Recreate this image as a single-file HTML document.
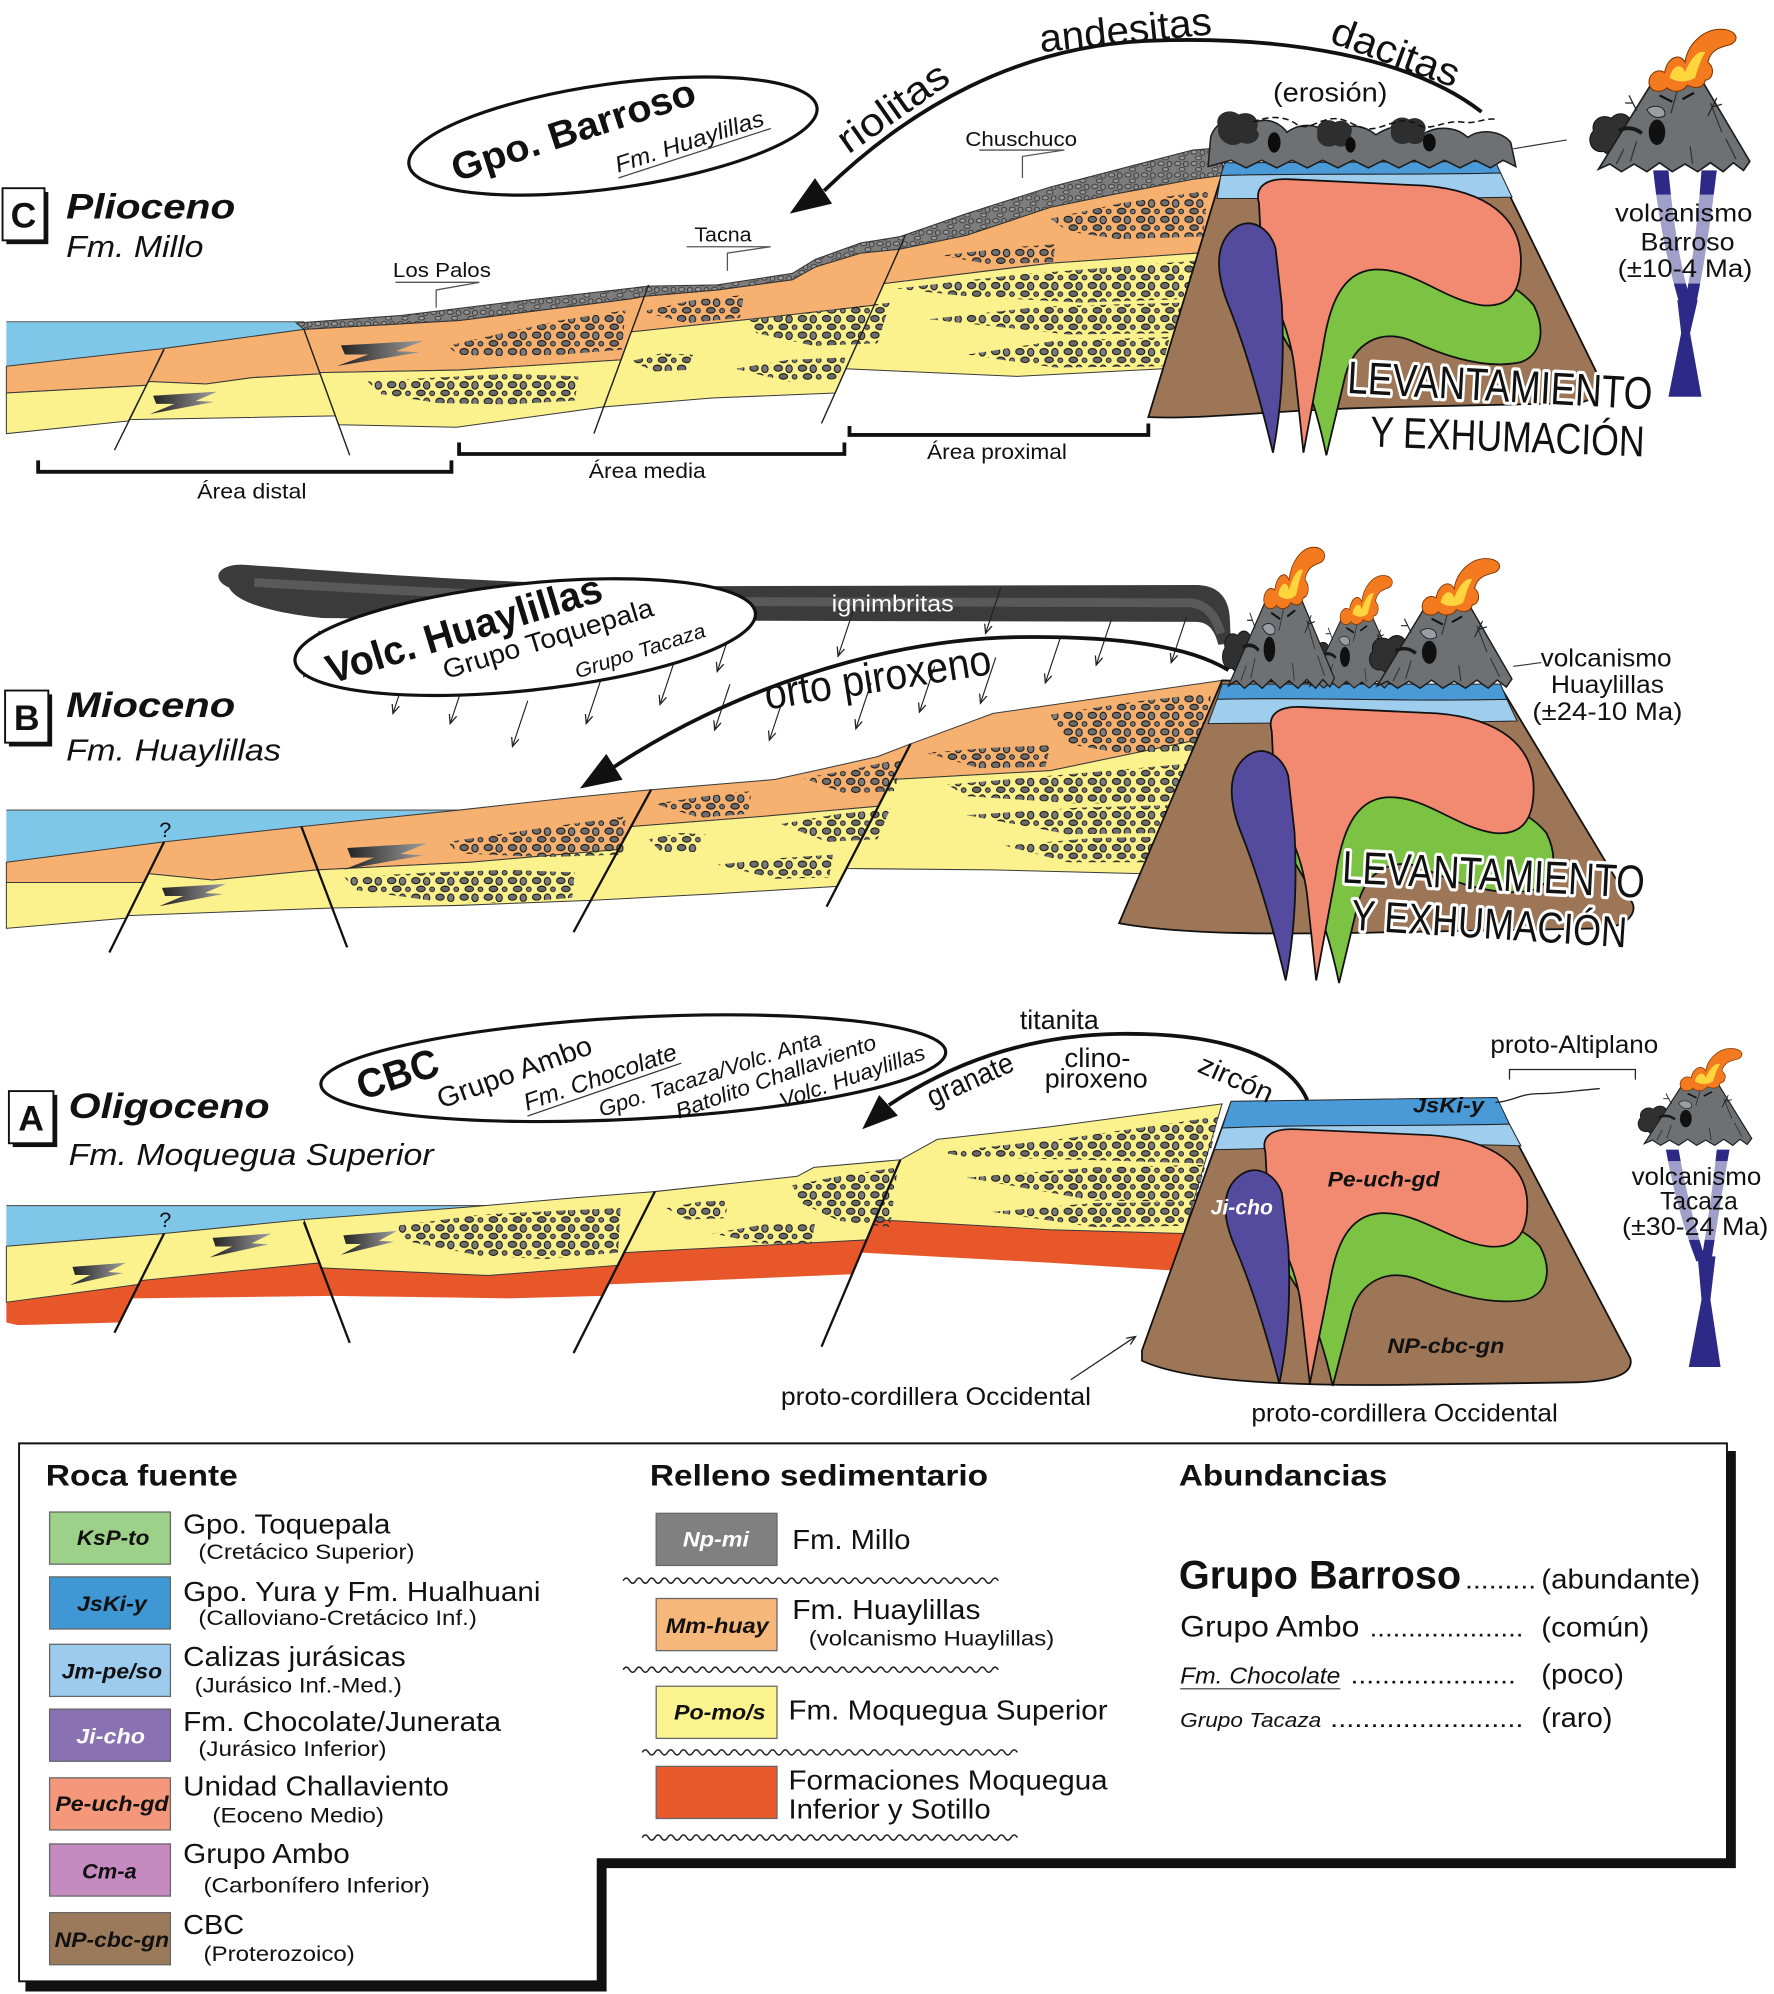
<!DOCTYPE html>
<html><head><meta charset="utf-8"><style>
html,body{margin:0;padding:0;background:#fff;}
svg{display:block;}
text{font-family:"Liberation Sans",Arial,sans-serif;fill:#111;}
</style></head><body>
<svg xmlns="http://www.w3.org/2000/svg" xmlns:xlink="http://www.w3.org/1999/xlink" width="1774" height="1994" viewBox="0 0 1395 1568">
<defs>
 <pattern id="gv" width="19" height="13" patternUnits="userSpaceOnUse">
  <ellipse cx="4" cy="3.5" rx="3.3" ry="2.4" fill="#6e6e6e" stroke="#111" stroke-width=".8"/>
  <ellipse cx="12.5" cy="4" rx="2.5" ry="3" fill="#7c7c7c" stroke="#111" stroke-width=".8"/>
  <ellipse cx="8" cy="10" rx="3.4" ry="2.2" fill="#6a6a6a" stroke="#111" stroke-width=".8"/>
  <ellipse cx="16.8" cy="10.3" rx="1.9" ry="1.8" fill="#7c7c7c" stroke="#111" stroke-width=".7"/>
 </pattern>
 <pattern id="gv2" width="13" height="9" patternUnits="userSpaceOnUse">
  <ellipse cx="3" cy="2.6" rx="2.4" ry="1.7" fill="#959595" stroke="#2a2a2a" stroke-width=".6"/>
  <ellipse cx="9.5" cy="3" rx="1.9" ry="2.1" fill="#8a8a8a" stroke="#2a2a2a" stroke-width=".6"/>
  <ellipse cx="6.5" cy="7.2" rx="2.4" ry="1.5" fill="#959595" stroke="#2a2a2a" stroke-width=".6"/>
 </pattern>
 <linearGradient id="lg" x1="0" x2="1" y1="0" y2="0"><stop offset="0" stop-color="#1e1e1e"/><stop offset="1" stop-color="#a0a0a0"/></linearGradient>
 <marker id="ah" markerWidth="9" markerHeight="9" refX="7" refY="4" orient="auto" markerUnits="userSpaceOnUse"><path d="M0,1 L7,4 L0,7" fill="none" stroke="#222" stroke-width="1"/></marker>
 <path id="bolt" d="M2,4 L44,0 L30,9 L42,10 L0,22 L16,12 L4,12 Z" fill="url(#lg)"/>
 <path id="millo" d="M233,254 L316,248 L406,237 L510,225 L564,224 L623,215 L641,204 L677,191 L708,186 L760,168 L826,147 L880,133 L938,118 L962,116 L961,138 L938,141 L880,152 L826,163 L760,185 L707,196 L677,199 L641,210 L623,220 L564,228 L506.7,233 L496,235 L361,252 L239,259 Z"/>
 <g id="cone">
  <path d="M10,34 C2,30 -6,36 -4,44 C-10,50 -6,62 4,60 C10,66 22,62 24,54 C34,52 34,40 26,38 C24,30 16,28 10,34 Z" fill="#303030" stroke="#111" stroke-width=".8"/>
  <path d="M44,3 C55,-1 70,-1 80,2 L119,68 L114,75 L106,69 L98,76 L88,69 L78,76 L68,70 L58,76 L48,69 L38,76 L28,70 L18,76 L9,70 L0,74 Z" fill="#6d7174" stroke="#1d1d1d" stroke-width="1.3"/>
  <path d="M62,12 L57,30 M88,22 L97,45 M30,52 L25,68 M100,50 L108,66 M72,56 L74,70 M20,58 L14,70" stroke="#333" stroke-width="1" fill="none"/>
  <path d="M16,44 C22,40 30,42 34,46" stroke="#1a1a1a" stroke-width="3" fill="none"/>
  <ellipse cx="46" cy="45" rx="6.5" ry="10" fill="#111"/>
  <path d="M38,27 C44,22 54,25 52,32 C47,35 41,33 38,27Z" fill="#9a9ea2" stroke="#222" stroke-width=".8"/>
  <path d="M48,16 L58,21 M66,19 L75,14" stroke="#111" stroke-width="1.8"/>
  <path d="M86,32 L93,18 M90,25 L97,23 M30,28 L24,16 M27,22 L21,22" stroke="#222" stroke-width="1" fill="none"/>
  <path d="M40,8 C38,0 46,-6 52,-2 C54,-14 64,-18 68,-10 C70,-24 82,-36 96,-36 C108,-36 112,-28 104,-24 C96,-22 88,-20 86,-10 C92,-6 90,4 84,4 C82,12 74,10 70,8 C66,14 58,14 54,10 C50,14 42,14 40,8 Z" fill="#f47a1f" stroke="#7a3300" stroke-width=".8"/>
  <path d="M56,2 C58,-8 66,-10 68,-2 C72,-12 78,-20 84,-18 C80,-12 78,-4 76,2 C70,6 62,6 56,2 Z" fill="#ffd53d"/>
 </g>
 <g id="intr" stroke="#111" stroke-width="1.4">
  <path fill="#7cc243" d="M996,210 C1002,200 1012,205 1018,220 L1030,250 C1050,225 1075,205 1100,205 C1150,205 1190,220 1206,240 C1216,260 1212,280 1195,285 C1170,290 1140,282 1110,268 C1085,258 1065,270 1058,295 L1043,358 C1035,320 1025,290 1012,270 C1000,250 994,228 996,210 Z"/>
  <path fill="#f28a72" d="M990,160 C986,145 998,140 1015,141 L1120,146 C1170,150 1196,172 1196,205 C1196,232 1185,242 1165,240 C1135,236 1110,210 1080,212 C1055,214 1045,240 1040,275 L1025,356 L1018,290 C1014,255 1000,235 995,215 C991,195 991,175 990,160 Z"/>
  <path fill="#544a9e" d="M970,180 C982,170 998,178 1003,195 L1008,240 C1010,280 1008,320 1001,356 C990,310 978,270 966,240 C956,215 955,192 970,180 Z"/>
 </g>
</defs>

<!-- ================= PANEL C ================= -->
<path d="M5,253 L239,253 L239,259 L129,274 L5,288 Z" fill="#7fc7e8"/>
<line x1="5" y1="253" x2="239" y2="253" stroke="#555" stroke-width=".8"/>
<g stroke="#3a3a3a" stroke-width=".8">
<path fill="#f6b170" d="M5,288 L129,274 L115,303 L5,309 Z"/>
<path fill="#fbf28e" d="M5,309 L115,303 L101,331 L5,341 Z"/>
<path fill="#f6b170" d="M129,274 L239,259 L251.7,294 L198,297 L162,302 L116.5,300 Z"/>
<path fill="#fbf28e" d="M116.5,300 L162,302 L198,297 L251.7,294 L263.8,327 L101.5,330 Z"/>
<path fill="#f6b170" d="M239,259 L361,252 L496,235 L506.7,233 L488.3,283 L361,291 L251.4,293 Z"/>
<path fill="#fbf28e" d="M251.4,293 L361,291 L488.3,283 L474.7,320 L359,336 L266.3,334 Z"/>
<path fill="#f6b170" d="M506.7,233 L564,228 L623,220 L641,210 L677,199 L707,196 L687.5,240 L600,250 L496.4,261 Z"/>
<path fill="#fbf28e" d="M496.4,261 L600,250 L687.5,240 L656.7,309 L560,313 L474.7,320 Z"/>
<path fill="#f6b170" d="M707,196 L760,185 L826,163 L880,152 L938,141 L961,138 L942,199 L826,207 L695,223 Z"/>
<path fill="#fbf28e" d="M695,223 L826,207 L942,199 L914.5,290 L800,296 L665,290 Z"/>
</g>
<g fill="url(#gv)">
<path d="M352,272 L395,262 L440,252 L492,244 L489,275 L440,279 L395,280 L360,279 Z"/>
<path d="M289,300 L340,297 L400,294 L455,296 L452,315 L400,318 L345,317 L300,310 Z"/>
<path d="M505,245 L545,236 L585,232 L582,250 L540,254 Z"/>
<path d="M587,252 L640,245 L700,238 L690,270 L640,272 L595,262 Z"/>
<path d="M578,290 L620,283 L665,281 L660,298 L620,300 Z"/>
<path d="M496,284 L520,278 L545,279 L540,291 L515,292 Z"/>
<path d="M826,172 L880,160 L950,150 L946,186 L880,188 L840,182 Z"/>
<path d="M740,201 L790,195 L830,192 L828,206 L780,208 Z"/>
<path d="M705,227 L800,216 L940,205 L934,235 L850,238 L760,233 Z"/>
<path d="M730,251 L820,241 L930,238 L924,262 L840,263 Z"/>
<path d="M760,279 L830,268 L920,265 L914,288 L830,289 Z"/>
</g>
<use xlink:href="#millo" fill="#7d7d7d"/>
<use xlink:href="#millo" fill="url(#gv2)" stroke="#333" stroke-width=".8"/>
<use xlink:href="#bolt" transform="translate(265,268) scale(1.55,0.9)"/>
<use xlink:href="#bolt" transform="translate(118,308) scale(1.2,0.8)"/>
<g stroke="#222" stroke-width="1.1">
<line x1="129" y1="275" x2="90" y2="354"/>
<line x1="239" y1="259" x2="275" y2="358"/>
<line x1="510" y1="224" x2="467" y2="341"/>
<line x1="712" y1="185" x2="646" y2="333"/>
</g>
<!-- mountain C -->
<path d="M963,130 L1176,131 L1257,296 C1262,305 1255,315 1240,317 L1100,320 C1000,322 950,330 903,328 Z" fill="#9c7657" stroke="#111" stroke-width="1.4"/>
<path d="M963,128 L1176,127 L1180,136 C1100,138 1030,136 960,138 Z" fill="#4a9ad8" stroke="#222" stroke-width=".8"/>
<path d="M960,138 C1030,136 1100,138 1180,136 L1189,155 C1100,157 1030,156 957,156 Z" fill="#9fcdee" stroke="#222" stroke-width=".8"/>
<use xlink:href="#intr"/>
<!-- eroded volcanic pile -->
<path d="M950,131 L952,108 C956,94 972,90 984,98 C996,90 1008,98 1012,104 C1026,94 1040,100 1046,106 C1060,96 1072,98 1082,106 C1094,98 1108,96 1118,106 C1130,98 1146,100 1154,108 C1166,100 1182,104 1188,112 L1192,131 L1182,126 L1172,132 L1160,126 L1148,132 L1136,126 L1124,132 L1112,126 L1100,132 L1088,126 L1076,132 L1064,126 L1052,132 L1040,126 L1028,132 L1016,126 L1004,132 L992,126 L980,132 L968,126 Z" fill="#6d7174" stroke="#1d1d1d" stroke-width="1.2"/>
<g fill="#2e2e2e"><path d="M958,100 C954,90 966,84 974,90 C984,86 992,94 988,102 C994,108 984,116 976,112 C968,118 956,110 958,100 Z"/><path d="M1036,104 C1034,96 1044,92 1050,96 C1058,92 1066,100 1062,106 C1066,112 1056,118 1050,114 C1042,118 1034,112 1036,104 Z"/><path d="M1094,102 C1092,94 1102,90 1108,94 C1116,90 1124,98 1120,104 C1124,110 1114,116 1108,112 C1100,116 1092,110 1094,102 Z"/></g>
<g fill="#0c0c0c"><ellipse cx="1002" cy="112" rx="5" ry="8"/><ellipse cx="1062" cy="114" rx="4" ry="6"/><ellipse cx="1124" cy="112" rx="5" ry="7"/></g>
<path d="M985,96 C1000,90 1012,92 1020,98 C1030,104 1040,90 1055,94 C1068,98 1072,104 1085,100 C1098,96 1105,92 1115,98 C1125,104 1135,94 1150,96 C1160,98 1168,92 1178,94" fill="none" stroke="#111" stroke-width="1.2" stroke-dasharray="5,3"/>
<line x1="1190" y1="117" x2="1232" y2="110" stroke="#333" stroke-width=".9"/>
<!-- right volcano C -->
<g fill="#2d2a87">
<path d="M1300,134 L1312,134 Q1318,200 1330,238 L1321,240 Q1306,190 1300,134 Z"/>
<path d="M1338,134 L1350,134 Q1342,200 1334,238 L1325,238 Q1334,190 1338,134 Z"/>
<path d="M1319,236 L1335,236 L1329,262 L1338,312 L1312,312 L1322,262 Z"/>
</g>
<rect x="1292" y="153" width="66" height="70" fill="#fff" opacity=".55"/>
<use xlink:href="#cone" transform="translate(1257,59)"/>
<g text-anchor="middle" font-size="20">
<text x="1324" y="174" textLength="108" lengthAdjust="spacingAndGlyphs">volcanismo</text>
<text x="1327" y="197" textLength="74" lengthAdjust="spacingAndGlyphs">Barroso</text>
<text x="1325" y="218" textLength="106" lengthAdjust="spacingAndGlyphs">(±10-4 Ma)</text>
</g>
<text x="1001" y="80" font-size="21" textLength="90" lengthAdjust="spacingAndGlyphs">(erosión)</text>
<!-- arc C -->
<path d="M1165,88 C1110,45 1010,28 905,32 C800,36 715,85 648,150" fill="none" stroke="#111" stroke-width="3"/>
<path d="M621,168 L640.9,140.1 L654.3,160.1 Z" fill="#111"/>
<text transform="translate(708,93) rotate(-35)" text-anchor="middle" font-size="31" textLength="100" lengthAdjust="spacingAndGlyphs">riolitas</text>
<text transform="translate(886,34) rotate(-6)" text-anchor="middle" font-size="31" textLength="136" lengthAdjust="spacingAndGlyphs">andesitas</text>
<text transform="translate(1094,51) rotate(20)" text-anchor="middle" font-size="31" textLength="105" lengthAdjust="spacingAndGlyphs">dacitas</text>
<!-- ellipse C -->
<ellipse cx="482" cy="107" rx="162" ry="41" transform="rotate(-8 482 107)" fill="#fff" stroke="#111" stroke-width="2.5"/>
<text transform="translate(454,112) rotate(-18)" text-anchor="middle" font-size="30" font-weight="bold" textLength="200" lengthAdjust="spacingAndGlyphs">Gpo. Barroso</text>
<g transform="translate(544,117) rotate(-18)"><text text-anchor="middle" font-size="18" font-style="italic" textLength="122" lengthAdjust="spacingAndGlyphs">Fm. Huaylillas</text><line x1="-62" y1="4" x2="64" y2="4" stroke="#444" stroke-width="1"/></g>
<!-- leaders -->
<g fill="none" stroke="#555" stroke-width="1">
<path d="M311,222 L377,222 L343,228 L343,242"/>
<path d="M540,194 L606,194 L572,199 L572,213"/>
<path d="M770,118 L837,118 L804,123 L804,140"/>
</g>
<g font-size="16">
<text x="309" y="218" textLength="77" lengthAdjust="spacingAndGlyphs">Los Palos</text>
<text x="546" y="190" textLength="45" lengthAdjust="spacingAndGlyphs">Tacna</text>
<text x="759" y="115" textLength="88" lengthAdjust="spacingAndGlyphs">Chuschuco</text>
</g>
<!-- title C -->
<rect x="5" y="151" width="33" height="41" fill="#111"/>
<rect x="2" y="148" width="33" height="41" fill="#fff" stroke="#111" stroke-width="1.5"/>
<text x="18.5" y="179" text-anchor="middle" font-size="28" font-weight="bold">C</text>
<text x="52" y="172" font-size="28" font-weight="bold" font-style="italic" textLength="133" lengthAdjust="spacingAndGlyphs">Plioceno</text>
<text x="52" y="202" font-size="24" font-style="italic" textLength="108" lengthAdjust="spacingAndGlyphs">Fm. Millo</text>
<!-- brackets -->
<g fill="none" stroke="#111" stroke-width="3">
<path d="M30,362 L30,371 L355,371 L355,362"/>
<path d="M361,348 L361,357 L664,357 L664,348"/>
<path d="M668,335 L668,342 L903,342 L903,333"/>
</g>
<g font-size="17" text-anchor="middle">
<text x="198" y="392" textLength="86" lengthAdjust="spacingAndGlyphs">Área distal</text>
<text x="509" y="376" textLength="92" lengthAdjust="spacingAndGlyphs">Área media</text>
<text x="784" y="361" textLength="110" lengthAdjust="spacingAndGlyphs">Área proximal</text>
</g>
<g transform="translate(1059,309) rotate(3.1)"><text font-size="36" stroke="#fff" stroke-width="5" paint-order="stroke" stroke-linejoin="round" textLength="240" lengthAdjust="spacingAndGlyphs">LEVANTAMIENTO</text></g>
<g transform="translate(1077,351) rotate(2.1)"><text font-size="34" stroke="#fff" stroke-width="5" paint-order="stroke" stroke-linejoin="round" textLength="216" lengthAdjust="spacingAndGlyphs">Y EXHUMACIÓN</text></g>

<!-- ================= PANEL B ================= -->
<path d="M5,637 L361,637 L237,650 L129,662 L5,678 Z" fill="#7fc7e8"/>
<line x1="5" y1="637" x2="361" y2="637" stroke="#555" stroke-width=".8"/>
<g stroke="#3a3a3a" stroke-width=".8">
<path fill="#f6b170" d="M5,678 L129,662 L113.2,694 L5,694 Z"/>
<path fill="#fbf28e" d="M5,694 L113.2,694 L99.4,722 L5,730 Z"/>
<path fill="#f6b170" d="M129,662 L237,650 L249.9,684 L167,692 L116.6,687 Z"/>
<path fill="#fbf28e" d="M116.6,687 L167,692 L249.9,684 L261.3,714 L100.3,720 Z"/>
<path fill="#f6b170" d="M237,650 L361,637 L451,627 L512,621 L486.4,668 L370,678 L249.9,684 Z"/>
<path fill="#fbf28e" d="M249.9,684 L370,678 L486.4,668 L464.6,708 L360,712 L261.3,714 Z"/>
<path fill="#f6b170" d="M512,621 L609,613 L641,606 L690,595 L716,585 L690.7,634 L600,642 L496.2,650 Z"/>
<path fill="#fbf28e" d="M496.2,650 L600,642 L690.7,634 L658.2,697 L560,703 L464.6,708 Z"/>
<path fill="#f6b170" d="M716,585 L781,561 L871,548 L961,535 L941,582 L826,606 L701.6,613 Z"/>
<path fill="#fbf28e" d="M701.6,613 L826,606 L941,582 L896.6,687 L780,684 L665.4,683 Z"/>
</g>
<g fill="url(#gv)">
<path d="M352,662 L420,652 L492,642 L490,672 L430,674 L360,671 Z"/>
<path d="M271,690 L340,686 L400,684 L452,686 L450,706 L400,710 L345,709 L280,700 Z"/>
<path d="M515,632 L555,626 L591,622 L588,640 L550,643 Z"/>
<path d="M632,612 L670,605 L708,597 L704,622 L665,624 Z"/>
<path d="M614,648 L660,640 L700,636 L690,660 L650,662 Z"/>
<path d="M564,680 L610,675 L655,672 L652,690 L610,691 Z"/>
<path d="M510,660 L535,655 L555,656 L550,670 L520,670 Z"/>
<path d="M826,562 L890,552 L952,545 L950,590 L880,592 L840,585 Z"/>
<path d="M728,592 L780,588 L826,586 L822,603 L770,604 Z"/>
<path d="M745,617 L850,608 L940,600 L935,630 L850,632 L760,626 Z"/>
<path d="M760,641 L850,635 L925,633 L918,655 L840,656 Z"/>
<path d="M790,665 L860,659 L915,658 L906,678 L840,678 Z"/>
</g>
<use xlink:href="#bolt" transform="translate(270,663) scale(1.5,0.95)"/>
<use xlink:href="#bolt" transform="translate(125,695) scale(1.2,0.8)"/>
<g stroke="#111" stroke-width="1.8">
<line x1="129" y1="662" x2="86" y2="749"/>
<line x1="237" y1="650" x2="273" y2="745"/>
<line x1="512" y1="621" x2="451" y2="733"/>
<line x1="716" y1="585" x2="650" y2="713"/>
</g>
<text x="130" y="658" text-anchor="middle" font-size="17">?</text>
<!-- mountain B -->
<path d="M961,535 L1180,540 L1279,705 C1290,712 1285,728 1260,730 L1100,733 C1000,735 930,735 880,726 Z" fill="#9c7657" stroke="#111" stroke-width="1.4"/>
<path d="M961,538 L1180,538 L1185,550 C1100,552 1030,548 957,550 Z" fill="#4a9ad8" stroke="#222" stroke-width=".8"/>
<path d="M957,550 C1030,548 1100,552 1185,550 L1193,567 C1100,569 1030,568 950,569 Z" fill="#9fcdee" stroke="#222" stroke-width=".8"/>
<use xlink:href="#intr" transform="translate(10,415)"/>
<!-- plume -->
<path d="M180,462 C166,456 170,444 190,444 L220,446 C300,452 420,460 540,461 L940,460 C958,460 966,470 967,485 L968,506 L958,507 C955,495 950,489 940,489 L540,488 C420,487 320,487 253,486 C215,482 186,474 180,462 Z" fill="#3b3b3b"/>
<path d="M200,458 C300,464 420,470 540,473 L935,474 C950,475 956,485 960,498" fill="none" stroke="#666" stroke-width="7" opacity=".7"/>
<text x="654" y="481" font-size="18" fill="#fff" style="fill:#fff" textLength="96" lengthAdjust="spacingAndGlyphs">ignimbritas</text>
<!-- volcanoes B -->
<use xlink:href="#cone" transform="translate(1030,481) scale(0.6,0.79)"/>
<use xlink:href="#cone" transform="translate(966,466) scale(0.7,0.99)"/>
<use xlink:href="#cone" transform="translate(1083,472) scale(0.89,0.91)"/>
<line x1="1190" y1="524" x2="1212" y2="521" stroke="#333" stroke-width=".9"/>
<g text-anchor="middle" font-size="20">
<text x="1263" y="524" textLength="103" lengthAdjust="spacingAndGlyphs">volcanismo</text>
<text x="1264" y="545" textLength="89" lengthAdjust="spacingAndGlyphs">Huaylillas</text>
<text x="1264" y="566" textLength="118" lengthAdjust="spacingAndGlyphs">(±24-10 Ma)</text>
</g>
<!-- rain arrows -->
<g stroke="#222" stroke-width=".9" marker-end="url(#ah)">
<line x1="251" y1="496" x2="239" y2="532"/>
<line x1="321" y1="525" x2="309" y2="561"/>
<line x1="366" y1="533" x2="354" y2="569"/>
<line x1="415" y1="551" x2="403" y2="587"/>
<line x1="473" y1="533" x2="461" y2="569"/>
<line x1="531" y1="518" x2="519" y2="554"/>
<line x1="574" y1="538" x2="562" y2="574"/>
<line x1="576" y1="492" x2="564" y2="528"/>
<line x1="617" y1="546" x2="605" y2="582"/>
<line x1="671" y1="480" x2="659" y2="516"/>
<line x1="685" y1="537" x2="673" y2="573"/>
<line x1="735" y1="524" x2="723" y2="560"/>
<line x1="783" y1="517" x2="771" y2="553"/>
<line x1="787" y1="462" x2="775" y2="498"/>
<line x1="834" y1="501" x2="822" y2="537"/>
<line x1="874" y1="487" x2="862" y2="523"/>
<line x1="933" y1="485" x2="921" y2="521"/>
</g>
<!-- ellipse B -->
<ellipse cx="413" cy="501" rx="182" ry="42" transform="rotate(-6 413 501)" fill="#fff" stroke="#111" stroke-width="2.5"/>
<text transform="translate(368,505) rotate(-17)" text-anchor="middle" font-size="32" font-weight="bold" textLength="225" lengthAdjust="spacingAndGlyphs">Volc. Huaylillas</text>
<text transform="translate(433,509) rotate(-17)" text-anchor="middle" font-size="21" textLength="172" lengthAdjust="spacingAndGlyphs">Grupo Toquepala</text>
<text transform="translate(505,517) rotate(-18)" text-anchor="middle" font-size="16" font-style="italic" textLength="107" lengthAdjust="spacingAndGlyphs">Grupo Tacaza</text>
<!-- arc B -->
<path d="M966,527 C935,508 880,500 800,501 C690,503 570,545 483,603" fill="none" stroke="#111" stroke-width="3"/>
<path d="M456,620 L476.8,592.8 L489.6,613.2 Z" fill="#111"/>
<text transform="translate(603,558) rotate(-9)" font-size="34" textLength="180" lengthAdjust="spacingAndGlyphs">orto piroxeno</text>
<!-- title B -->
<rect x="7" y="546" width="34" height="41" fill="#111"/>
<rect x="4" y="543" width="34" height="41" fill="#fff" stroke="#111" stroke-width="1.5"/>
<text x="21" y="574" text-anchor="middle" font-size="28" font-weight="bold">B</text>
<text x="52" y="564" font-size="28" font-weight="bold" font-style="italic" textLength="133" lengthAdjust="spacingAndGlyphs">Mioceno</text>
<text x="52" y="598" font-size="24" font-style="italic" textLength="169" lengthAdjust="spacingAndGlyphs">Fm. Huaylillas</text>
<g transform="translate(1055,694) rotate(2.9)"><text font-size="36" stroke="#fff" stroke-width="5" paint-order="stroke" stroke-linejoin="round" textLength="238" lengthAdjust="spacingAndGlyphs">LEVANTAMIENTO</text></g>
<g transform="translate(1062,731) rotate(3.7)"><text font-size="34" stroke="#fff" stroke-width="5" paint-order="stroke" stroke-linejoin="round" textLength="217" lengthAdjust="spacingAndGlyphs">Y EXHUMACIÓN</text></g>

<!-- ================= PANEL A ================= -->
<path d="M5,948 L390,948 L370,949 L239,959 L129,970 L5,980 Z" fill="#7fc7e8"/>
<line x1="5" y1="948" x2="390" y2="948" stroke="#555" stroke-width=".8"/>
<g>
<path fill="#e7572a" d="M5,1024 L109,1010 L94,1040 L14,1042 L5,1040 Z"/>
<path fill="#e7572a" d="M110.5,1007 L251.9,993 L261,1019 L103.5,1021 Z"/>
<path fill="#e7572a" d="M252.6,997 L384,1003 L485.8,995 L473.7,1019 L400,1021 L261,1019 Z"/>
<path fill="#e7572a" d="M490.8,985 L681.4,975 L670,1002 L478.2,1010 Z"/>
<path fill="#e7572a" d="M688.2,959 L826,967 L931,970 L920.6,999 L826,993 L677.2,985 Z"/>
</g>
<g stroke="#3a3a3a" stroke-width=".8" fill="#fbf28e">
<path d="M5,980 L129,970 L109,1010 L5,1024 Z"/>
<path d="M129,970 L239,959 L251.9,993 L110.5,1007 Z"/>
<path d="M239,959 L370,949 L451,942 L515,937 L485.8,995 L384,1003 L252.6,997 Z"/>
<path d="M515,937 L627,925 L640,918 L708,912 L681.4,975 L490.8,985 Z"/>
<path d="M708,912 L737,896 L826,886 L961,868 L931,970 L826,967 L688.2,959 Z"/>
</g>
<g fill="url(#gv)">
<path d="M311,964 L380,955 L440,952 L488,950 L486,985 L430,990 L380,988 L320,976 Z"/>
<path d="M524,950 L550,945 L573,944 L570,958 L540,959 Z"/>
<path d="M560,970 L600,963 L641,962 L638,978 L600,978 Z"/>
<path d="M623,932 L665,924 L706,918 L700,965 L660,960 L630,946 Z"/>
<path d="M740,906 L840,895 L958,878 L950,915 L850,912 L760,910 Z"/>
<path d="M760,926 L860,918 L948,916 L940,945 L860,944 Z"/>
<path d="M780,953 L860,946 L938,945 L932,964 L860,965 Z"/>
</g>
<use xlink:href="#bolt" transform="translate(55,993) scale(1,0.8)"/>
<use xlink:href="#bolt" transform="translate(165,970) scale(1.1,0.85)"/>
<use xlink:href="#bolt" transform="translate(268,968) scale(1,0.85)"/>
<g stroke="#111" stroke-width="1.8">
<line x1="129" y1="970" x2="90" y2="1048"/>
<line x1="239" y1="961" x2="275" y2="1056"/>
<line x1="515" y1="937" x2="451" y2="1064"/>
<line x1="708" y1="912" x2="646" y2="1059"/>
</g>
<text x="130" y="965" text-anchor="middle" font-size="17">?</text>
<!-- mountain A -->
<path d="M968,867 L1176,866 L1282,1068 C1285,1080 1270,1086 1240,1087 L1100,1089 C1000,1090 930,1085 898,1070 L898,1062 Z" fill="#9c7657" stroke="#111" stroke-width="1.4"/>
<path d="M968,866 L1177,863 L1187,884 C1100,886 1030,884 961,887 Z" fill="#4a9ad8" stroke="#222" stroke-width=".8"/>
<path d="M961,887 C1030,884 1100,886 1187,884 L1196,901 C1100,898 1030,903 955,904 Z" fill="#9fcdee" stroke="#222" stroke-width=".8"/>
<use xlink:href="#intr" transform="matrix(1,0,0,0.93,5,756.9)"/>
<path d="M1176,867 C1190,866 1195,860 1210,860 C1225,860 1235,858 1258,856" fill="none" stroke="#222" stroke-width="1"/>
<g font-weight="bold" font-style="italic" font-size="17">
<text x="1111" y="875" textLength="56" lengthAdjust="spacingAndGlyphs">JsKi-y</text>
<text x="1044" y="933" textLength="88" lengthAdjust="spacingAndGlyphs">Pe-uch-gd</text>
<text x="952" y="955" fill="#fff" style="fill:#fff" textLength="49" lengthAdjust="spacingAndGlyphs">Ji-cho</text>
<text x="1091" y="1064" textLength="92" lengthAdjust="spacingAndGlyphs">NP-cbc-gn</text>
</g>
<!-- volcano A -->
<g fill="#2d2a87">
<path d="M1310,904 L1320,904 Q1328,950 1341,990 L1334,992 Q1318,950 1310,904 Z"/>
<path d="M1350,904 L1360,904 Q1352,950 1346,990 L1338,990 Q1345,950 1350,904 Z"/>
<path d="M1335,988 L1349,988 L1345,1022 L1353,1075 L1328,1075 L1338,1022 Z"/>
</g>
<rect x="1300" y="913" width="70" height="62" fill="#fff" opacity=".55"/>
<use xlink:href="#cone" transform="translate(1293,849) scale(0.71,0.68)"/>
<g text-anchor="middle" font-size="20">
<text x="1334" y="932" textLength="102" lengthAdjust="spacingAndGlyphs">volcanismo</text>
<text x="1336" y="951" textLength="61" lengthAdjust="spacingAndGlyphs">Tacaza</text>
<text x="1333" y="971" textLength="115" lengthAdjust="spacingAndGlyphs">(±30-24 Ma)</text>
</g>
<path d="M1187,849 L1187,841 L1286,841 L1286,849" fill="none" stroke="#222" stroke-width="1"/>
<text x="1172" y="828" font-size="20" textLength="132" lengthAdjust="spacingAndGlyphs">proto-Altiplano</text>
<!-- ellipse A -->
<ellipse cx="498" cy="840" rx="246" ry="40" transform="rotate(-3 498 840)" fill="#fff" stroke="#111" stroke-width="2.5"/>
<text transform="translate(316,855) rotate(-18)" text-anchor="middle" font-size="32" font-weight="bold" textLength="66" lengthAdjust="spacingAndGlyphs">CBC</text>
<text transform="translate(407,850) rotate(-20)" text-anchor="middle" font-size="22" textLength="128" lengthAdjust="spacingAndGlyphs">Grupo Ambo</text>
<g transform="translate(474,853) rotate(-19)"><text text-anchor="middle" font-size="19" font-style="italic" textLength="126" lengthAdjust="spacingAndGlyphs">Fm. Chocolate</text><line x1="-64" y1="4" x2="64" y2="4" stroke="#333" stroke-width="1"/></g>
<text transform="translate(560,850) rotate(-18)" text-anchor="middle" font-size="17" font-style="italic" textLength="183" lengthAdjust="spacingAndGlyphs">Gpo. Tacaza/Volc. Anta</text>
<text transform="translate(612,852) rotate(-19.5)" text-anchor="middle" font-size="17" font-style="italic" textLength="166" lengthAdjust="spacingAndGlyphs">Batolito Challaviento</text>
<text transform="translate(672,852) rotate(-19)" text-anchor="middle" font-size="17" font-style="italic" textLength="120" lengthAdjust="spacingAndGlyphs">Volc. Huaylillas</text>
<!-- arc A -->
<path d="M1028,865 C1012,828 955,812 880,813 C805,814 745,838 699,869" fill="none" stroke="#111" stroke-width="3"/>
<path d="M678,888 L691.3,861.1 L706.1,877.3 Z" fill="#111"/>
<text transform="translate(766,856) rotate(-24)" text-anchor="middle" font-size="23" textLength="72" lengthAdjust="spacingAndGlyphs">granate</text>
<text x="833" y="809" text-anchor="middle" font-size="21" textLength="62" lengthAdjust="spacingAndGlyphs">titanita</text>
<text x="863" y="839" text-anchor="middle" font-size="21" textLength="52" lengthAdjust="spacingAndGlyphs">clino-</text>
<text x="862" y="855" text-anchor="middle" font-size="21" textLength="81" lengthAdjust="spacingAndGlyphs">piroxeno</text>
<text transform="translate(969,855) rotate(24)" text-anchor="middle" font-size="22" textLength="62" lengthAdjust="spacingAndGlyphs">zircón</text>
<!-- title A -->
<rect x="10" y="861" width="35" height="41" fill="#111"/>
<rect x="7" y="858" width="35" height="41" fill="#fff" stroke="#111" stroke-width="1.5"/>
<text x="24.5" y="889" text-anchor="middle" font-size="28" font-weight="bold">A</text>
<text x="54" y="879" font-size="28" font-weight="bold" font-style="italic" textLength="158" lengthAdjust="spacingAndGlyphs">Oligoceno</text>
<text x="54" y="916" font-size="24" font-style="italic" textLength="287" lengthAdjust="spacingAndGlyphs">Fm. Moquegua Superior</text>
<!-- proto-cordillera labels -->
<line x1="842" y1="1085" x2="893" y2="1051" stroke="#222" stroke-width="1" marker-end="url(#ah)"/>
<text x="614" y="1105" font-size="20" textLength="244" lengthAdjust="spacingAndGlyphs">proto-cordillera Occidental</text>
<text x="984" y="1118" font-size="20" textLength="241" lengthAdjust="spacingAndGlyphs">proto-cordillera Occidental</text>

<!-- ================= LEGEND ================= -->
<path d="M15,1135 L1358,1135 L1358,1462 L470,1462 L470,1558 L15,1558 Z" fill="#fff" stroke="#111" stroke-width="1.5"/>
<path d="M1358,1141 L1365,1141 L1365,1469 L477,1469 L477,1566 L20,1566 L20,1558 L470,1558 L470,1462 L1358,1462 Z" fill="#111"/>
<g font-size="23" font-weight="bold">
<text x="36" y="1168" textLength="151" lengthAdjust="spacingAndGlyphs">Roca fuente</text>
<text x="511" y="1168" textLength="266" lengthAdjust="spacingAndGlyphs">Relleno sedimentario</text>
<text x="927" y="1168" textLength="164" lengthAdjust="spacingAndGlyphs">Abundancias</text>
</g>
<!-- left swatches -->
<g stroke="#666" stroke-width="1">
<rect x="39" y="1189" width="95" height="41" fill="#9dd088"/>
<rect x="39" y="1240" width="95" height="41" fill="#3f97d3"/>
<rect x="39" y="1293" width="95" height="41" fill="#9ccbed"/>
<rect x="39" y="1344" width="95" height="41" fill="#8a72b2"/>
<rect x="39" y="1398" width="95" height="41" fill="#f4977a"/>
<rect x="39" y="1450" width="95" height="41" fill="#c58bc0"/>
<rect x="39" y="1504" width="95" height="41" fill="#9b7a5c"/>
<rect x="516" y="1190" width="95" height="41" fill="#808080"/>
<rect x="516" y="1257" width="95" height="41" fill="#f6b77a"/>
<rect x="516" y="1326" width="95" height="41" fill="#fbf38d"/>
<rect x="516" y="1389" width="95" height="41" fill="#e85a2c"/>
</g>
<g font-size="17" font-weight="bold" font-style="italic" text-anchor="middle">
<text x="89" y="1215" textLength="57" lengthAdjust="spacingAndGlyphs">KsP-to</text>
<text x="88" y="1267" textLength="55" lengthAdjust="spacingAndGlyphs">JsKi-y</text>
<text x="88" y="1320" textLength="79" lengthAdjust="spacingAndGlyphs">Jm-pe/so</text>
<text x="87" y="1371" fill="#fff" style="fill:#fff" textLength="54" lengthAdjust="spacingAndGlyphs">Ji-cho</text>
<text x="88" y="1424" textLength="89" lengthAdjust="spacingAndGlyphs">Pe-uch-gd</text>
<text x="86" y="1477" textLength="43" lengthAdjust="spacingAndGlyphs">Cm-a</text>
<text x="88" y="1531" textLength="90" lengthAdjust="spacingAndGlyphs">NP-cbc-gn</text>
<text x="563" y="1216" fill="#fff" style="fill:#fff" textLength="52" lengthAdjust="spacingAndGlyphs">Np-mi</text>
<text x="564" y="1284" textLength="81" lengthAdjust="spacingAndGlyphs">Mm-huay</text>
<text x="566" y="1352" textLength="72" lengthAdjust="spacingAndGlyphs">Po-mo/s</text>
</g>
<g font-size="22">
<text x="144" y="1206" textLength="163" lengthAdjust="spacingAndGlyphs">Gpo. Toquepala</text>
<text x="144" y="1259" textLength="281" lengthAdjust="spacingAndGlyphs">Gpo. Yura y Fm. Hualhuani</text>
<text x="144" y="1310" textLength="175" lengthAdjust="spacingAndGlyphs">Calizas jurásicas</text>
<text x="144" y="1361" textLength="250" lengthAdjust="spacingAndGlyphs">Fm. Chocolate/Junerata</text>
<text x="144" y="1412" textLength="209" lengthAdjust="spacingAndGlyphs">Unidad Challaviento</text>
<text x="144" y="1465" textLength="131" lengthAdjust="spacingAndGlyphs">Grupo Ambo</text>
<text x="144" y="1521" textLength="48" lengthAdjust="spacingAndGlyphs">CBC</text>
<text x="623" y="1218" textLength="93" lengthAdjust="spacingAndGlyphs">Fm. Millo</text>
<text x="623" y="1273" textLength="148" lengthAdjust="spacingAndGlyphs">Fm. Huaylillas</text>
<text x="620" y="1352" textLength="251" lengthAdjust="spacingAndGlyphs">Fm. Moquegua Superior</text>
<text x="620" y="1407" textLength="251" lengthAdjust="spacingAndGlyphs">Formaciones Moquegua</text>
<text x="620" y="1430" textLength="159" lengthAdjust="spacingAndGlyphs">Inferior y Sotillo</text>
</g>
<g font-size="17">
<text x="156" y="1226" textLength="170" lengthAdjust="spacingAndGlyphs">(Cretácico Superior)</text>
<text x="156" y="1278" textLength="219" lengthAdjust="spacingAndGlyphs">(Calloviano-Cretácico Inf.)</text>
<text x="153" y="1331" textLength="163" lengthAdjust="spacingAndGlyphs">(Jurásico Inf.-Med.)</text>
<text x="156" y="1381" textLength="148" lengthAdjust="spacingAndGlyphs">(Jurásico Inferior)</text>
<text x="167" y="1433" textLength="135" lengthAdjust="spacingAndGlyphs">(Eoceno Medio)</text>
<text x="160" y="1488" textLength="178" lengthAdjust="spacingAndGlyphs">(Carbonífero Inferior)</text>
<text x="160" y="1542" textLength="119" lengthAdjust="spacingAndGlyphs">(Proterozoico)</text>
<text x="636" y="1294" textLength="193" lengthAdjust="spacingAndGlyphs">(volcanismo Huaylillas)</text>
</g>
<g fill="none" stroke="#222" stroke-width="1.2">
<path d="M490,1243 q2.5,-4 5,0 t5,0 t5,0 t5,0 t5,0 t5,0 t5,0 t5,0 t5,0 t5,0 t5,0 t5,0 t5,0 t5,0 t5,0 t5,0 t5,0 t5,0 t5,0 t5,0 t5,0 t5,0 t5,0 t5,0 t5,0 t5,0 t5,0 t5,0 t5,0 t5,0 t5,0 t5,0 t5,0 t5,0 t5,0 t5,0 t5,0 t5,0 t5,0 t5,0 t5,0 t5,0 t5,0 t5,0 t5,0 t5,0 t5,0 t5,0 t5,0 t5,0 t5,0 t5,0 t5,0 t5,0 t5,0 t5,0 t5,0 t5,0 t5,0"/>
<path d="M490,1313 q2.5,-4 5,0 t5,0 t5,0 t5,0 t5,0 t5,0 t5,0 t5,0 t5,0 t5,0 t5,0 t5,0 t5,0 t5,0 t5,0 t5,0 t5,0 t5,0 t5,0 t5,0 t5,0 t5,0 t5,0 t5,0 t5,0 t5,0 t5,0 t5,0 t5,0 t5,0 t5,0 t5,0 t5,0 t5,0 t5,0 t5,0 t5,0 t5,0 t5,0 t5,0 t5,0 t5,0 t5,0 t5,0 t5,0 t5,0 t5,0 t5,0 t5,0 t5,0 t5,0 t5,0 t5,0 t5,0 t5,0 t5,0 t5,0 t5,0 t5,0"/>
<path d="M505,1378 q2.5,-4 5,0 t5,0 t5,0 t5,0 t5,0 t5,0 t5,0 t5,0 t5,0 t5,0 t5,0 t5,0 t5,0 t5,0 t5,0 t5,0 t5,0 t5,0 t5,0 t5,0 t5,0 t5,0 t5,0 t5,0 t5,0 t5,0 t5,0 t5,0 t5,0 t5,0 t5,0 t5,0 t5,0 t5,0 t5,0 t5,0 t5,0 t5,0 t5,0 t5,0 t5,0 t5,0 t5,0 t5,0 t5,0 t5,0 t5,0 t5,0 t5,0 t5,0 t5,0 t5,0 t5,0 t5,0 t5,0 t5,0 t5,0 t5,0 t5,0"/>
<path d="M505,1445 q2.5,-4 5,0 t5,0 t5,0 t5,0 t5,0 t5,0 t5,0 t5,0 t5,0 t5,0 t5,0 t5,0 t5,0 t5,0 t5,0 t5,0 t5,0 t5,0 t5,0 t5,0 t5,0 t5,0 t5,0 t5,0 t5,0 t5,0 t5,0 t5,0 t5,0 t5,0 t5,0 t5,0 t5,0 t5,0 t5,0 t5,0 t5,0 t5,0 t5,0 t5,0 t5,0 t5,0 t5,0 t5,0 t5,0 t5,0 t5,0 t5,0 t5,0 t5,0 t5,0 t5,0 t5,0 t5,0 t5,0 t5,0 t5,0 t5,0 t5,0"/>
</g>
<!-- abundancias -->
<text x="927" y="1249" font-size="31" font-weight="bold" textLength="222" lengthAdjust="spacingAndGlyphs">Grupo Barroso</text>
<text x="1152" y="1249" font-size="20" textLength="56" lengthAdjust="spacingAndGlyphs">.........</text>
<text x="1212" y="1249" font-size="22" textLength="125" lengthAdjust="spacingAndGlyphs">(abundante)</text>
<text x="928" y="1287" font-size="23" textLength="141" lengthAdjust="spacingAndGlyphs">Grupo Ambo</text>
<text x="1077" y="1287" font-size="20" textLength="121" lengthAdjust="spacingAndGlyphs">....................</text>
<text x="1212" y="1287" font-size="22" textLength="85" lengthAdjust="spacingAndGlyphs">(común)</text>
<text x="928" y="1324" font-size="18.5" font-style="italic" textLength="126" lengthAdjust="spacingAndGlyphs">Fm. Chocolate</text>
<line x1="928" y1="1328" x2="1054" y2="1328" stroke="#666" stroke-width="1.2"/>
<text x="1062" y="1324" font-size="20" textLength="130" lengthAdjust="spacingAndGlyphs">.....................</text>
<text x="1212" y="1324" font-size="22" textLength="65" lengthAdjust="spacingAndGlyphs">(poco)</text>
<text x="928" y="1358" font-size="16" font-style="italic" textLength="111" lengthAdjust="spacingAndGlyphs">Grupo Tacaza</text>
<text x="1046" y="1358" font-size="20" textLength="152" lengthAdjust="spacingAndGlyphs">........................</text>
<text x="1212" y="1358" font-size="22" textLength="56" lengthAdjust="spacingAndGlyphs">(raro)</text>
</svg>
</body></html>
